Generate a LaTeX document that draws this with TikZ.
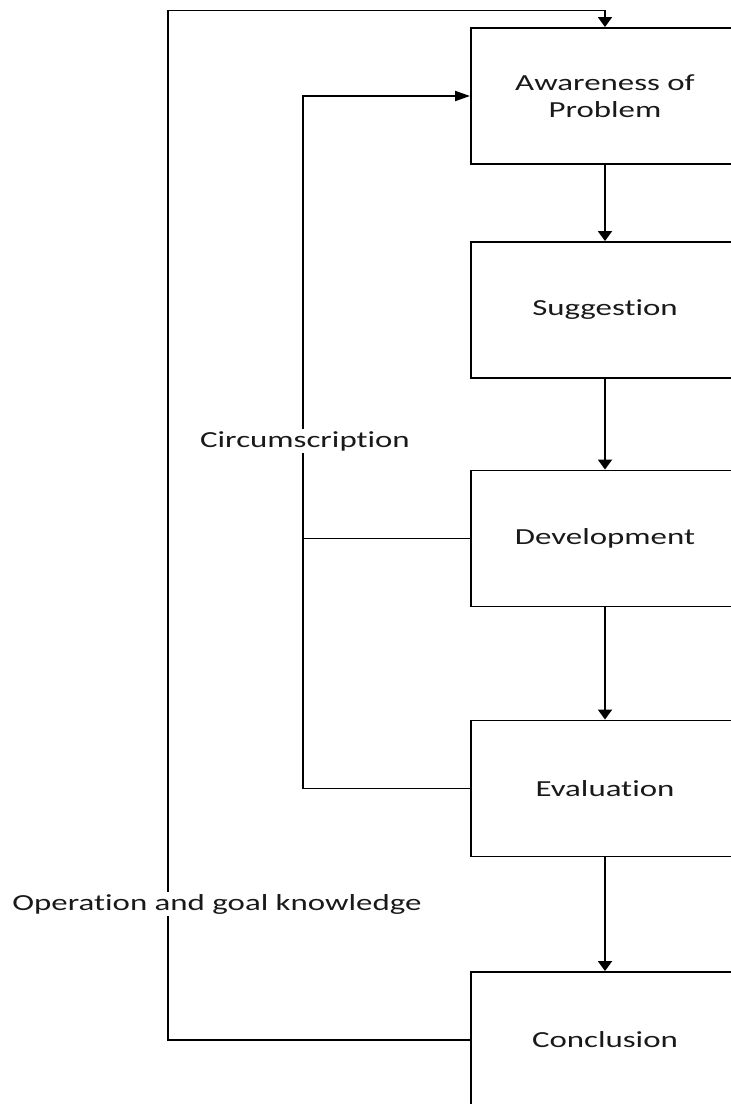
\documentclass[tikz,border=0pt]{standalone}
\usepackage{fontspec}
\setmainfont{Carlito}[FakeStretch=1.43, Ligatures=NoCommon]
\usetikzlibrary{arrows.meta}
\begin{document}
\begin{tikzpicture}[x=1pt,y=-1pt,
  line width=1.9pt,
  stage/.style={draw, rectangle, minimum width=268pt, minimum height=136pt,
    inner sep=0pt, align=center, font=\fontsize{23}{27}\selectfont, text=black!90},
  lbl/.style={fill=white, inner sep=2pt, font=\fontsize{23}{27}\selectfont, text=black!90},
  down/.style={-{Triangle[length=10pt,width=14pt]}},
  right/.style={-{Triangle[length=15pt,width=10pt]}}]
\useasboundingbox (0,0) rectangle (731,1104);
\clip (0,0) rectangle (731,1104);

% process stages
\node[stage] (b1) at (605,96)   {Awareness of\\Problem};
\node[stage] (b2) at (605,310)  {Suggestion};
\node[stage] (b3) at (605,538.5){Development};
\node[stage] (b4) at (605,788.5){Evaluation};
\node[stage] (b5) at (605,1040) {Conclusion};

% forward flow
\draw[down] (b1.south) -- (b2.north);
\draw[down] (b2.south) -- (b3.north);
\draw[down] (b3.south) -- (b4.north);
\draw[down] (b4.south) -- (b5.north);

% circumscription loop
\coordinate (innerTop) at (303,96);
\draw[right] (b4.west) -| (innerTop) -- (b1.west);
\draw (b3.west) -- (b3.west -| innerTop);

% operation and goal knowledge loop
\coordinate (outerTop) at (168,10.5);
\draw[down] (b5.west) -| (outerTop) -| (b1.north);

% loop labels
\node[lbl] (circ) at (305,441) {Circumscription};
\node[lbl] (oper) at (217,904) {Operation and goal knowledge};
\end{tikzpicture}
\end{document}
